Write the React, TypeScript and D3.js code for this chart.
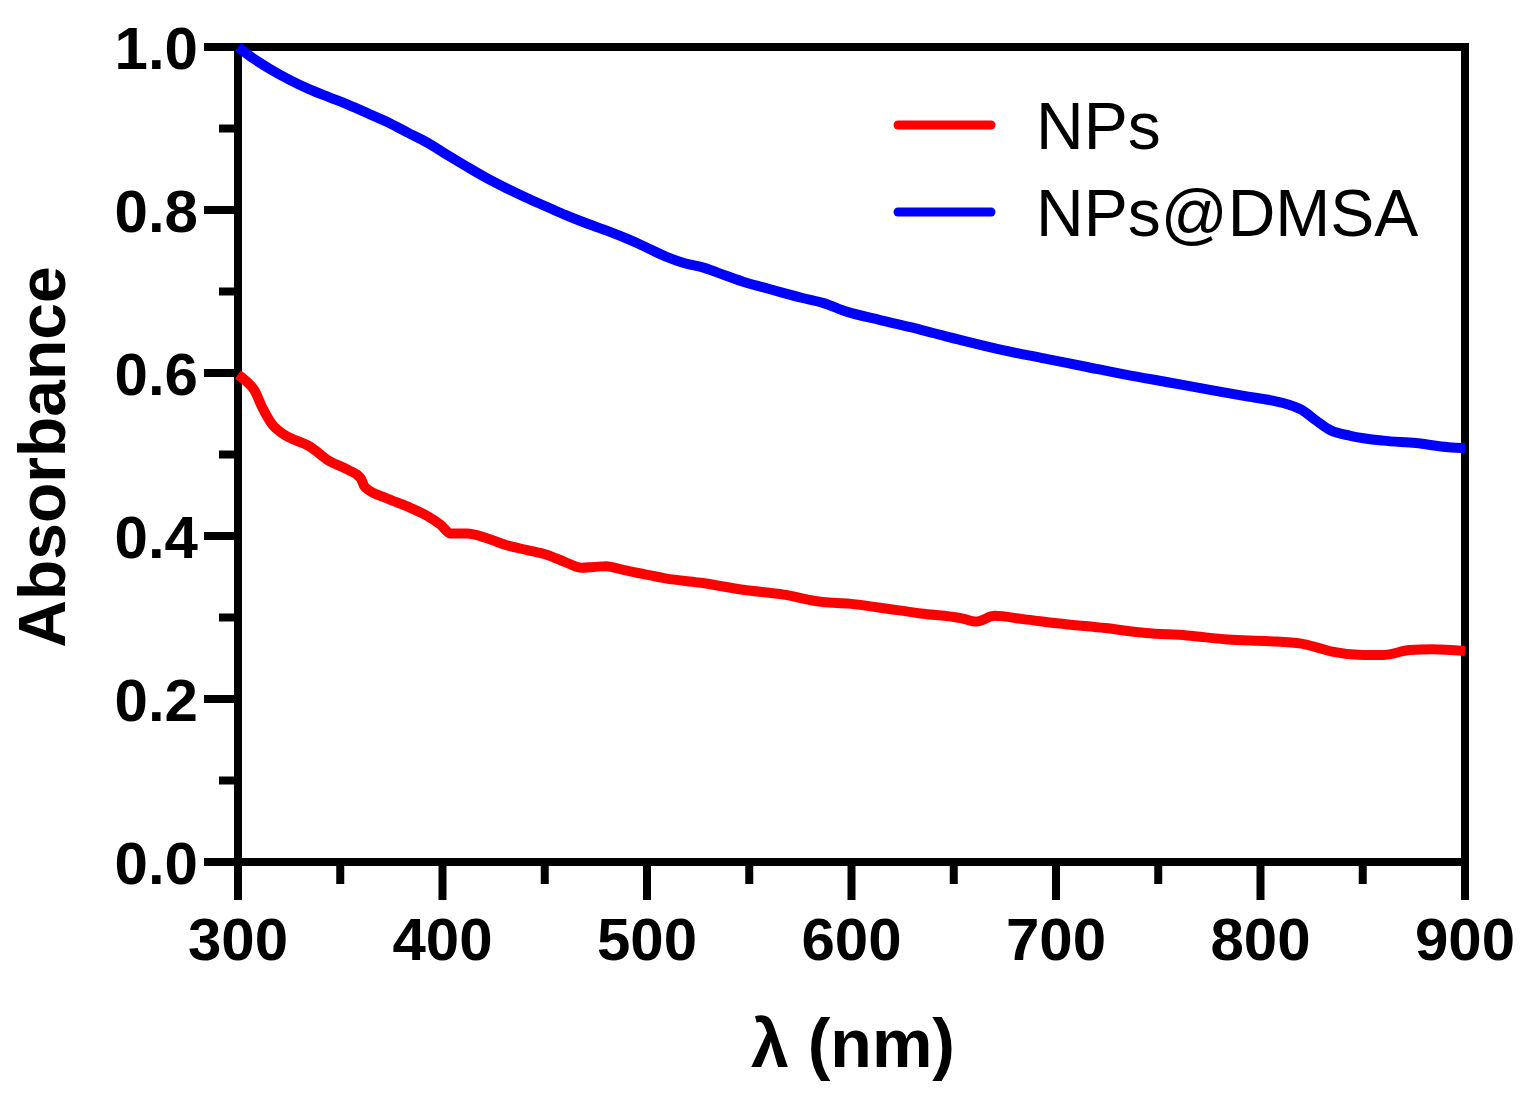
import React from 'react';
import * as d3 from 'd3';

// wavelength (nm) / absorbance pairs
const npsWavelength = [
  300, 304, 308, 312, 317, 321, 325, 335, 344, 354, 360, 362, 373, 383, 393, 399, 404, 412,
  422, 431, 441, 451, 460, 468, 474, 480, 489, 499, 509, 528, 547, 567, 586, 599, 614, 634,
  654, 661, 670, 684, 704, 724, 744, 764, 784, 804, 820, 828, 835, 850, 860, 873, 884, 900,
];
const npsAbsorbance = [
  0.598, 0.59, 0.579, 0.557, 0.536, 0.527, 0.521, 0.51, 0.493, 0.481, 0.471, 0.46, 0.446,
  0.436, 0.424, 0.414, 0.403, 0.403, 0.397, 0.389, 0.383, 0.377, 0.368, 0.361, 0.362, 0.363,
  0.358, 0.353, 0.348, 0.342, 0.334, 0.328, 0.319, 0.317, 0.312, 0.305, 0.299, 0.295, 0.302,
  0.298, 0.292, 0.287, 0.281, 0.278, 0.273, 0.271, 0.268, 0.263, 0.258, 0.254, 0.254, 0.26,
  0.261, 0.259,
];

const dmsaWavelength = [
  300, 308, 315, 325, 335, 345, 354, 364, 373, 383, 393, 402, 412, 421, 431, 441, 451, 460,
  470, 480, 489, 499, 509, 518, 528, 538, 547, 557, 567, 576, 586, 598, 614, 634, 654, 674,
  694, 714, 734, 754, 774, 794, 806, 814, 820, 827, 834, 844, 860, 876, 892, 900,
];
const dmsaAbsorbance = [
  1.0, 0.985, 0.974, 0.96, 0.948, 0.938, 0.929, 0.918, 0.908, 0.895, 0.882, 0.868, 0.853,
  0.84, 0.827, 0.815, 0.804, 0.794, 0.784, 0.775, 0.766, 0.755, 0.743, 0.735, 0.729, 0.72,
  0.712, 0.705, 0.698, 0.692, 0.686, 0.675, 0.665, 0.653, 0.64, 0.628, 0.618, 0.608, 0.598,
  0.589, 0.58, 0.571, 0.566, 0.561, 0.555, 0.542, 0.53, 0.523, 0.517, 0.514, 0.509, 0.508,
];

const xMajorTicks = [300, 400, 500, 600, 700, 800, 900];
const xMinorTicks = [350, 450, 550, 650, 750, 850];
const yMajorTicks = [0, 0.2, 0.4, 0.6, 0.8, 1.0];
const yMinorTicks = [0.1, 0.3, 0.5, 0.7, 0.9];

const seriesNames = ['NPs', 'NPs@DMSA'];
const seriesColors = ['#ff0000', '#0000ff'];

const W = 1528;
const H = 1097;
const FONT = '"Liberation Sans", Arial, Helvetica, sans-serif';

const App: React.FC = () => {
  const x = d3.scaleLinear().domain([300, 900]).range([238, 1465]);
  const y = d3.scaleLinear().domain([0, 1]).range([862, 47]);

  const line = d3
    .line<[number, number]>()
    .x(d => x(d[0]))
    .y(d => y(d[1]))
    .curve(d3.curveMonotoneX);

  const series = [
    d3.zip(npsWavelength, npsAbsorbance) as [number, number][],
    d3.zip(dmsaWavelength, dmsaAbsorbance) as [number, number][],
  ];

  const [x0, x1] = x.range();
  const [yBottom, yTop] = y.range();

  return (
    <svg
      width={W}
      height={H}
      style={{ position: 'absolute', left: 0, top: 0, background: '#fff' }}
    >
      {/* frame */}
      <rect
        x={x0}
        y={yTop}
        width={x1 - x0}
        height={yBottom - yTop}
        fill="none"
        stroke="#000"
        strokeWidth={8}
      />

      {/* x ticks */}
      {xMajorTicks.map(t => (
        <g key={'xm' + t}>
          <line x1={x(t)} x2={x(t)} y1={yBottom} y2={yBottom + 38} stroke="#000" strokeWidth={8} />
          <text
            x={x(t)}
            y={960}
            textAnchor="middle"
            fontFamily={FONT}
            fontWeight="bold"
            fontSize={60}
          >
            {t}
          </text>
        </g>
      ))}
      {xMinorTicks.map(t => (
        <line key={'xn' + t} x1={x(t)} x2={x(t)} y1={yBottom} y2={yBottom + 22} stroke="#000" strokeWidth={8} />
      ))}

      {/* y ticks */}
      {yMajorTicks.map(t => (
        <g key={'ym' + t}>
          <line x1={x0} x2={x0 - 34} y1={y(t)} y2={y(t)} stroke="#000" strokeWidth={8} />
          <text
            x={198}
            y={y(t) + 21.5}
            textAnchor="end"
            fontFamily={FONT}
            fontWeight="bold"
            fontSize={60}
          >
            {t.toFixed(1)}
          </text>
        </g>
      ))}
      {yMinorTicks.map(t => (
        <line key={'yn' + t} x1={x0} x2={x0 - 19} y1={y(t)} y2={y(t)} stroke="#000" strokeWidth={8} />
      ))}

      {/* curves */}
      {series.map((s, i) => (
        <path key={seriesNames[i]} d={line(s) || ''} fill="none" stroke={seriesColors[i]} strokeWidth={10} />
      ))}

      {/* axis titles */}
      <text
        x={853}
        y={1067}
        textAnchor="middle"
        fontFamily={FONT}
        fontWeight="bold"
        fontSize={68}
      >
        λ (nm)
      </text>
      <text
        transform="translate(65,457) rotate(-90)"
        textAnchor="middle"
        fontFamily={FONT}
        fontWeight="bold"
        fontSize={66}
      >
        Absorbance
      </text>

      {/* legend */}
      {seriesNames.map((name, i) => {
        const ly = i === 0 ? 125 : 212;
        return (
          <g key={'lg' + name}>
            <line x1={898} x2={991} y1={ly} y2={ly} stroke={seriesColors[i]} strokeWidth={9} strokeLinecap="round" />
            <text x={1036} y={ly + 24} fontFamily={FONT} fontSize={66}>
              {name}
            </text>
          </g>
        );
      })}
    </svg>
  );
};

export default App;
